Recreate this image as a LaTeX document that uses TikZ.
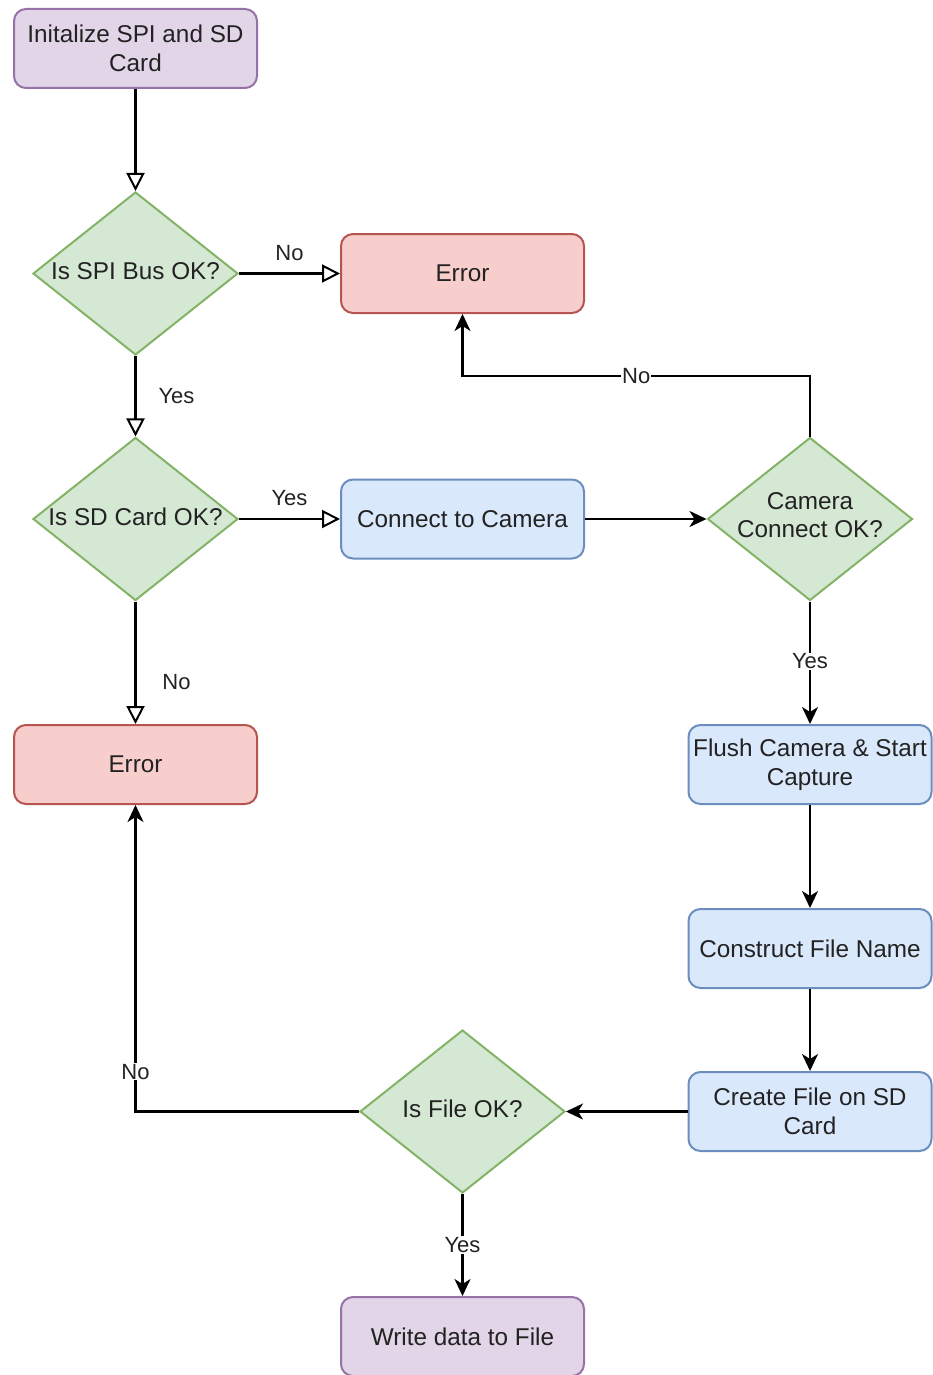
\documentclass[tikz,border=0pt]{standalone}
\usepackage{fontspec}
\setmainfont{Liberation Sans}
\usetikzlibrary{shapes.geometric,arrows.meta,calc}
\definecolor{purF}{HTML}{E1D5E7}\definecolor{purD}{HTML}{9673A6}
\definecolor{grnF}{HTML}{D5E8D4}\definecolor{grnD}{HTML}{82B366}
\definecolor{redF}{HTML}{F8CECC}\definecolor{redD}{HTML}{B85450}
\definecolor{bluF}{HTML}{DAE8FC}\definecolor{bluD}{HTML}{6C8EBF}
\definecolor{txt}{HTML}{222222}
\newcommand{\nodefont}{\fontsize{24.3}{28.5}\selectfont}
\newcommand{\edgefont}{\fontsize{22}{24}\selectfont}
\begin{document}
\begin{tikzpicture}[x=1pt,y=-1pt,
  base/.style={line width=2pt, font=\nodefont, text=txt, align=center, inner sep=0pt},
  box/.style={base, draw, rectangle, rounded corners=12pt, minimum width=243pt, minimum height=79pt},
  purbox/.style={box, fill=purF, draw=purD},
  redbox/.style={box, fill=redF, draw=redD},
  blubox/.style={box, fill=bluF, draw=bluD},
  dia/.style={base, draw=grnD, fill=grnF, diamond, minimum width=205pt, minimum height=163pt},
  dlab/.style={font=\nodefont, text=txt, align=center, inner sep=0pt, yshift=2.5pt},
  lbl/.style={font=\edgefont, text=txt, inner sep=1pt},
  onl/.style={lbl, fill=white},
  oarr/.style={line width=2.2pt, -{Triangle[open, length=18pt, width=18pt, line width=2pt]}},
  farr/.style={line width=2.2pt, -{Stealth[length=17pt, width=16pt, inset=5pt]}},
]
\useasboundingbox (0,0) rectangle (932,1375);

\node[purbox] (init) at (135.5,48.5) {Initalize SPI and SD\\Card};
\node[dia, label={[dlab]center:Is SPI Bus OK?}] (spi) at (135.5,273.5) {};
\node[redbox] (err1) at (462.5,273.5) {Error};
\node[dia, label={[dlab]center:Is SD Card OK?}] (sd) at (135.5,519) {};
\node[blubox] (conn) at (462.5,519) {Connect to Camera};
\node[dia, label={[dlab, yshift=1.5pt]center:Camera\\Connect OK?}] (cam) at (810,519) {};
\node[redbox] (err2) at (135.5,764.5) {Error};
\node[blubox] (flush) at (810,764.5) {Flush Camera \& Start\\Capture};
\node[blubox] (cons) at (810,948.5) {Construct File Name};
\node[blubox] (create) at (810,1111.5) {Create File on SD\\Card};
\node[dia, label={[dlab]center:Is File OK?}] (file) at (462.5,1111.5) {};
\node[purbox] (write) at (462.5,1336.5) {Write data to File};

\coordinate (c1) at (0,376);

\draw[oarr] (init) -- (spi);
\draw[oarr] (spi) -- node[lbl, midway, yshift=20pt] {No} (err1);
\draw[oarr] (spi) -- node[lbl, midway, xshift=41pt] {Yes} (sd);
\draw[oarr] (sd) -- node[lbl, midway, yshift=21pt] {Yes} (conn);
\draw[oarr] (sd) -- node[lbl, pos=0.66, xshift=41pt] {No} (err2);
\draw[farr] (conn) -- (cam);
\draw[farr] (cam) -- node[onl, pos=0.49] {Yes} (flush);
\draw[farr] (cam.north) -- (cam.north |- c1) -- node[onl, pos=0.5] {No} (err1.south |- c1) -- (err1.south);
\draw[farr] (flush) -- (cons);
\draw[farr] (cons) -- (create);
\draw[farr] (create) -- (file);
\draw[farr] (file.west) -- (err2.south |- file.west) -- node[onl, pos=0.13] {No} (err2.south);
\draw[farr] (file) -- node[onl, midway] {Yes} (write);
\end{tikzpicture}
\end{document}
